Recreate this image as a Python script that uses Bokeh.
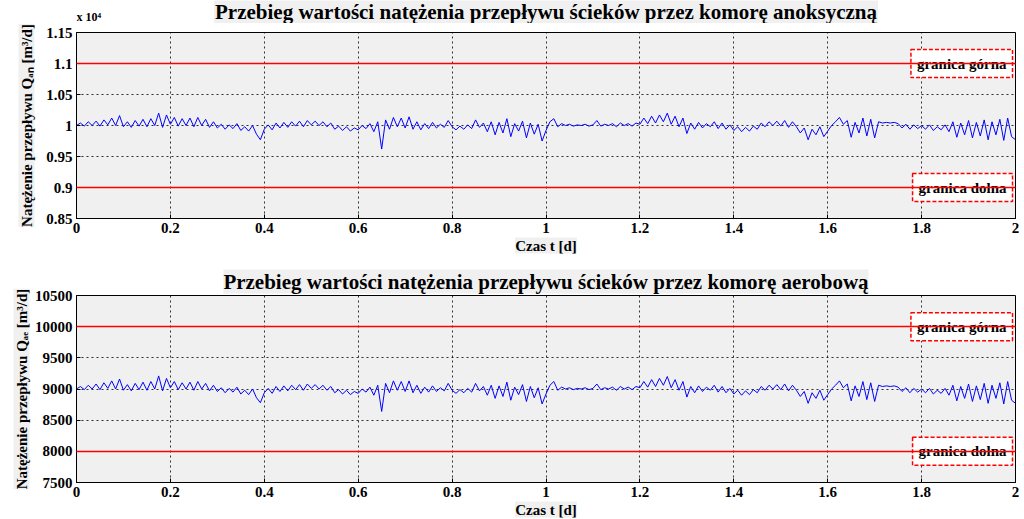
import numpy as np
from bokeh.plotting import figure
from bokeh.models import Range1d, FixedTicker, Label, Title
from bokeh.layouts import column
from bokeh.embed import file_html
from bokeh.resources import INLINE

# ---- data ----
# flow through the anoxic chamber, in units of 10^4 m3/d
q_an = [
    1.000, 1.004, 0.999, 1.006, 1.000, 1.007, 0.999, 1.009, 1.001, 1.012, 1.000, 1.016,
    0.998, 1.006, 0.997, 1.008, 0.999, 1.010, 0.998, 1.011, 1.000, 1.020, 0.997, 1.017,
    1.002, 1.013, 0.999, 1.011, 1.000, 1.012, 0.998, 1.013, 1.000, 1.010, 0.997, 1.006,
    0.996, 1.002, 0.994, 1.001, 0.995, 1.003, 0.992, 0.998, 0.991, 1.000, 0.986, 0.977,
    0.994, 1.001, 0.993, 1.004, 0.996, 1.005, 0.997, 1.006, 0.999, 1.007, 0.998, 1.008,
    1.001, 1.007, 1.000, 1.006, 0.998, 1.004, 0.994, 0.999, 0.992, 0.998, 0.991, 0.996,
    0.993, 1.000, 0.995, 1.003, 0.990, 1.006, 0.962, 1.009, 0.994, 1.013, 0.998, 1.012,
    0.996, 1.014, 0.994, 1.006, 0.993, 1.003, 0.995, 1.005, 0.996, 1.002, 0.997, 1.008,
    0.998, 0.993, 0.999, 0.994, 1.001, 0.995, 1.009, 0.997, 1.004, 0.990, 1.006, 0.985,
    1.005, 0.988, 1.011, 0.982, 1.003, 0.991, 1.007, 0.980, 1.004, 0.986, 1.002, 0.975,
    0.992, 1.006, 1.011, 0.998, 1.003, 1.000, 1.002, 0.999, 1.001, 1.000, 1.002, 0.999,
    1.001, 1.008, 0.999, 1.002, 1.000, 1.003, 0.998, 1.004, 1.000, 1.003, 0.999, 1.004,
    1.002, 1.012, 1.003, 1.015, 1.004, 1.017, 1.006, 1.020, 1.002, 1.015, 0.998, 1.012,
    0.987, 1.004, 0.994, 1.005, 0.996, 1.003, 0.998, 1.006, 0.995, 1.004, 0.994, 1.001,
    0.992, 0.998, 0.990, 0.997, 0.991, 0.999, 0.994, 1.004, 0.998, 1.006, 1.000, 1.007,
    0.999, 1.008, 0.997, 1.006, 0.998, 0.988, 0.996, 0.977, 0.994, 0.985, 0.998, 0.982,
    0.991, 1.000, 1.006, 1.013, 1.002, 1.008, 0.981, 1.005, 0.988, 1.012, 0.983, 1.010,
    0.980, 1.006, 1.004, 1.005, 1.004, 1.005, 1.003, 0.996, 1.002, 0.994, 1.001, 0.995,
    1.000, 0.994, 1.001, 0.992, 0.998, 0.993, 1.001, 0.990, 1.006, 0.981, 1.004, 0.985,
    1.008, 0.980, 1.005, 0.983, 1.009, 0.977, 1.006, 0.985, 1.010, 0.976, 1.012, 0.982,
    0.977,
]

# flow through the aerobic chamber, m3/d
q_ae = [
    9000, 9040, 8990, 9060, 9000, 9080, 8990, 9100, 9010, 9130, 9000, 9160,
    8980, 9070, 8970, 9090, 8990, 9110, 8980, 9120, 9000, 9210, 8970, 9170,
    9020, 9120, 8990, 9100, 9000, 9110, 8980, 9120, 9000, 9090, 8970, 9060,
    8960, 9020, 8940, 9010, 8950, 9030, 8920, 8980, 8910, 9000, 8860, 8780,
    8940, 9010, 8930, 9040, 8960, 9050, 8970, 9060, 8990, 9070, 8980, 9080,
    9010, 9070, 9000, 9060, 8980, 9040, 8940, 8990, 8920, 8980, 8910, 8960,
    8930, 9000, 8950, 9030, 8900, 9060, 8640, 9090, 8940, 9130, 8980, 9120,
    8960, 9130, 8940, 9060, 8930, 9030, 8950, 9050, 8960, 9020, 8970, 9090,
    8980, 8930, 8990, 8940, 9010, 8950, 9090, 8970, 9040, 8900, 9060, 8850,
    9050, 8880, 9110, 8820, 9030, 8910, 9070, 8800, 9040, 8860, 9020, 8760,
    8920, 9060, 9120, 8980, 9030, 9000, 9020, 8990, 9010, 9000, 9020, 8990,
    9010, 9080, 8990, 9020, 9000, 9030, 8980, 9040, 9000, 9030, 8990, 9040,
    9020, 9120, 9030, 9150, 9040, 9170, 9060, 9200, 9020, 9150, 8980, 9120,
    8870, 9040, 8940, 9050, 8960, 9030, 8980, 9060, 8950, 9040, 8940, 9010,
    8920, 8980, 8900, 8970, 8910, 8990, 8940, 9040, 8980, 9060, 9000, 9070,
    8990, 9080, 8970, 9060, 8980, 8880, 8960, 8770, 8940, 8850, 8980, 8820,
    8910, 9000, 9060, 9130, 9020, 9080, 8810, 9050, 8880, 9120, 8830, 9100,
    8800, 9060, 9040, 9050, 9040, 9050, 9030, 8960, 9020, 8940, 9010, 8950,
    9000, 8940, 9010, 8920, 8980, 8930, 9010, 8900, 9060, 8810, 9040, 8850,
    9080, 8800, 9050, 8830, 9090, 8770, 9060, 8850, 9100, 8760, 9120, 8820,
    8770,
]

t_start, t_end = 0, 2
t_days = np.linspace(t_start, t_end, len(q_an))

x_ticks = [0, 0.2, 0.4, 0.6, 0.8, 1, 1.2, 1.4, 1.6, 1.8, 2]
x_tick_labels = ["0", "0.2", "0.4", "0.6", "0.8", "1", "1.2", "1.4", "1.6", "1.8", "2"]

y_ticks_an = [0.85, 0.9, 0.95, 1, 1.05, 1.1, 1.15]
y_tick_labels_an = ["0.85", "0.9", "0.95", "1", "1.05", "1.1", "1.15"]
y_ticks_ae = [7500, 8000, 8500, 9000, 9500, 10000, 10500]
y_tick_labels_ae = ["7500", "8000", "8500", "9000", "9500", "10000", "10500"]

limit_names = ["granica górna", "granica dolna"]
limits_an = [1.1, 0.9]
limits_ae = [10000, 8000]

title_an = "Przebieg wartości natężenia przepływu ścieków przez komorę anoksyczną"
title_ae = "Przebieg wartości natężenia przepływu ścieków przez komorę aerobową"
ylabel_an = "Natężenie przepływu Qₐₙ [m³/d]"
ylabel_ae = "Natężenie przepływu Qₐₑ [m³/d]"
xlabel = "Czas t [d]"
exponent_an = "x 10⁴"

FONT = "Liberation Serif"
GRAY = "#f0f0f0"
W = 1024
LEFT, RIGHT = 76, 9


def style_text(obj):
    obj.text_font = FONT
    obj.text_font_style = "bold"
    obj.text_color = "black"


def make_panel(title, ylabel, values, yticks, ylabels, limits, height,
               border_top, border_bottom, ylabel_standoff, ylabel_offset):
    p = figure(width=W, height=height, output_backend="svg", toolbar_location=None,
               x_range=Range1d(x_ticks[0], x_ticks[-1]),
               y_range=Range1d(yticks[0], yticks[-1]),
               min_border_left=LEFT, min_border_right=RIGHT,
               min_border_top=border_top, min_border_bottom=border_bottom)
    if title:
        p.title.text = title
        p.title.align = "center"
        style_text(p.title)
        p.title.text_font_size = "21px"
        p.title.background_fill_color = GRAY
        p.title.standoff = 4

    p.background_fill_color = GRAY
    p.border_fill_color = "white"
    p.outline_line_color = "black"
    p.outline_line_width = 1

    for ax in (p.xaxis[0], p.yaxis[0]):
        ax.major_label_text_font = FONT
        ax.major_label_text_font_style = "bold"
        ax.major_label_text_font_size = "15px"
        ax.major_label_text_color = "black"
        ax.axis_line_color = "black"
        ax.major_tick_line_color = "black"
        ax.major_tick_in = 4
        ax.major_tick_out = 0
        ax.minor_tick_line_color = None
        ax.major_label_standoff = 4

    p.xaxis.ticker = FixedTicker(ticks=x_ticks)
    p.xaxis.major_label_overrides = {t: l for t, l in zip(x_ticks, x_tick_labels)}
    p.yaxis.ticker = FixedTicker(ticks=yticks)
    p.yaxis.major_label_overrides = {t: l for t, l in zip(yticks, ylabels)}

    p.xgrid.ticker = FixedTicker(ticks=x_ticks)
    # grid lines hidden under the red limit lines are left out
    p.ygrid.ticker = FixedTicker(ticks=[t for t in yticks if t not in limits])
    for g in (p.xgrid[0], p.ygrid[0]):
        g.grid_line_color = "black"
        g.grid_line_dash = "2 3"
        g.grid_line_alpha = 0.8

    xl = Title(text=xlabel, align="center", text_font_size="15px",
               background_fill_color=GRAY, standoff=0)
    style_text(xl)
    p.add_layout(xl, "below")
    yl = Title(text=ylabel, align="center", text_font_size="15px",
               background_fill_color=GRAY, standoff=ylabel_standoff, offset=ylabel_offset)
    style_text(yl)
    p.add_layout(yl, "left")

    p.hspan(y=limits, line_color="#ff0000", line_width=1.5, level="overlay")

    p.line(t_days, values, line_color="#0000ff", line_width=1)

    for name, lim in zip(limit_names, limits):
        lab = Label(x=x_ticks[-1], y=lim, x_offset=-3, text=name,
                    text_align="right", text_baseline="middle", text_font_size="15px",
                    background_fill_color="white", border_line_color="red",
                    border_line_dash="4 2", border_line_width=1.5, padding=6)
        style_text(lab)
        p.add_layout(lab)
    return p


# header strip for the first panel: its title and the axis exponent share one row
HEADER_H = 23
header = figure(width=W, height=HEADER_H, output_backend="svg", toolbar_location=None,
                x_range=Range1d(x_ticks[0], x_ticks[-1]), y_range=Range1d(0, HEADER_H),
                x_axis_type=None, y_axis_type=None, min_border=0,
                min_border_left=LEFT, min_border_right=RIGHT)
header.outline_line_color = None
header.grid.visible = False
header.background_fill_color = "white"
header.border_fill_color = "white"
t1 = Label(x=(x_ticks[0] + x_ticks[-1]) / 2, y=0, y_offset=-1, text=title_an,
           text_align="center", text_baseline="bottom", text_font_size="21px",
           background_fill_color=GRAY, padding=1)
style_text(t1)
header.add_layout(t1)
e1 = Label(x=x_ticks[0], y=0, text=exponent_an, text_align="left",
           text_baseline="bottom", text_font_size="12px")
style_text(e1)
header.add_layout(e1)

p1 = make_panel(None, ylabel_an, q_an, y_ticks_an, y_tick_labels_an,
                limits_an, 259 - HEADER_H, 32 - HEADER_H, 41, 18, -2)
p2 = make_panel(title_ae, ylabel_ae, q_ae, y_ticks_ae, y_tick_labels_ae,
                limits_ae, 260, 36, 37, 4, 0)

layout = column(header, p1, p2, spacing=0)
open("out.html", "w").write(file_html(layout, INLINE))
